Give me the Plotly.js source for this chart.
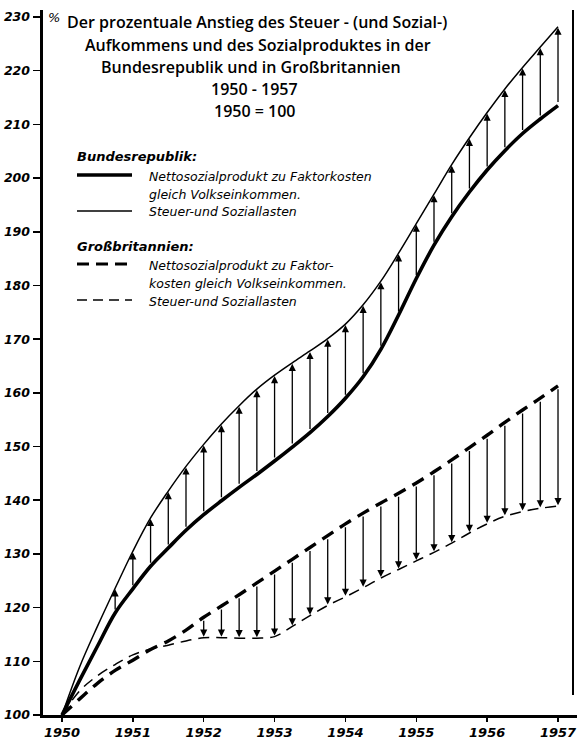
<!DOCTYPE html>
<html>
<head>
<meta charset="utf-8">
<script src="https://cdn.plot.ly/plotly-3.0.1.min.js"></script>
<style>html,body{margin:0;padding:0;background:#fff;}#chart{width:577px;height:742px;}</style>
</head>
<body>
<div id="chart"></div>
<script>
// ---- data ----
var years = [1950, 1950.25, 1950.5, 1950.75, 1951, 1951.25, 1951.5, 1951.75,
             1952, 1952.25, 1952.5, 1952.75, 1953, 1953.25, 1953.5, 1953.75,
             1954, 1954.25, 1954.5, 1954.75, 1955, 1955.25, 1955.5, 1955.75,
             1956, 1956.25, 1956.5, 1956.75, 1957];
// Bundesrepublik: Steuer- und Soziallasten (thin solid)
var brdSteuer = [100, 109.0, 116.5, 123.6, 130.5, 136.7, 141.7, 146.3,
                 150.4, 154.2, 157.6, 160.7, 163.3, 165.6, 167.8, 170.1,
                 172.8, 176.4, 180.8, 186.0, 191.5, 197.0, 202.5, 207.5,
                 212.2, 216.6, 220.6, 224.4, 228.2];
// Bundesrepublik: Nettosozialprodukt zu Faktorkosten (thick solid)
var brdNSP = [100, 106.5, 112.8, 119.0, 123.5, 127.7, 131.1, 134.4,
              137.3, 139.9, 142.4, 144.8, 147.3, 149.9, 152.6, 155.6,
              159.0, 163.0, 168.1, 174.5, 181.3, 187.5, 192.8, 197.4,
              201.5, 205.1, 208.3, 211.0, 213.5];
// Großbritannien: Nettosozialprodukt zu Faktorkosten (thick dashed)
var gbNSP = [100, 103.0, 105.9, 108.3, 110.2, 112.2, 113.8, 115.8,
             118.2, 120.3, 122.4, 124.6, 126.8, 129.0, 131.2, 133.4,
             135.6, 137.6, 139.5, 141.3, 143.2, 145.3, 147.5, 149.8,
             152.1, 154.5, 156.8, 159.0, 161.3];
// Großbritannien: Steuer- und Soziallasten (thin dashed)
var gbSteuer = [100, 104.5, 107.3, 109.4, 111.2, 112.3, 113.0, 113.8,
                114.4, 114.4, 114.3, 114.3, 114.6, 116.5, 118.5, 120.4,
                122.0, 123.7, 125.5, 127.1, 128.7, 130.3, 132.0, 133.9,
                135.6, 137.0, 137.9, 138.5, 138.9];
var brdArrowsFrom = 1950.75;
var gbArrowsFrom = 1952;
var yTicks = [100, 110, 120, 130, 140, 150, 160, 170, 180, 190, 200, 210, 220, 230];
var xTicks = [1950, 1951, 1952, 1953, 1954, 1955, 1956, 1957];

var titleLines = [
  "Der prozentuale Anstieg des Steuer - (und Sozial-)",
  "Aufkommens und des Sozialproduktes in der",
  "Bundesrepublik und in Großbritannien",
  "1950 - 1957",
  "1950 = 100"
];

// ---- layout helpers (pixel -> paper) ----
var L = 43, R = 577, T = 10, B = 715;
function px(x) { return (x - L) / (R - L); }
function py(y) { return (B - y) / (B - T); }

var FONT = "Open Sans, DejaVu Sans, sans-serif";
var HAND = "DejaVu Sans, Open Sans, sans-serif";

var traces = [
  {x: years, y: brdSteuer, mode: "lines", line: {color: "#000", width: 1.5, shape: "spline", smoothing: 1}},
  {x: years, y: brdNSP, mode: "lines", line: {color: "#000", width: 3.6, shape: "spline", smoothing: 1}},
  {x: years, y: gbNSP, mode: "lines", line: {color: "#000", width: 3.4, shape: "spline", smoothing: 1, dash: "13px,8px"}},
  {x: years, y: gbSteuer, mode: "lines", line: {color: "#000", width: 1.5, shape: "spline", smoothing: 1, dash: "11px,7px"}}
];

var annotations = [];
// arrows Bundesrepublik: from NSP up to Steuer; Großbritannien: from NSP down to Steuer
years.forEach(function (yr, i) {
  if (yr >= brdArrowsFrom) {
    annotations.push({x: yr, y: brdSteuer[i], ax: yr, ay: brdNSP[i], xref: "x", yref: "y",
      axref: "x", ayref: "y", text: "", showarrow: true, arrowhead: 2, arrowsize: 1.1,
      arrowwidth: 1.3, arrowcolor: "#000", standoff: 1, startstandoff: 2});
  }
  if (yr >= gbArrowsFrom) {
    annotations.push({x: yr, y: gbSteuer[i], ax: yr, ay: gbNSP[i], xref: "x", yref: "y",
      axref: "x", ayref: "y", text: "", showarrow: true, arrowhead: 2, arrowsize: 1.1,
      arrowwidth: 1.3, arrowcolor: "#000", standoff: 1, startstandoff: 2});
  }
});

var titleY = [22, 45, 67, 89, 111];
var titleX = [257, 258, 251, 254, 255];
titleLines.forEach(function (t, i) {
  annotations.push({xref: "paper", yref: "paper", x: px(titleX[i]), y: py(titleY[i]), text: t,
    showarrow: false, xanchor: "center", yanchor: "middle",
    font: {family: FONT, size: 16, weight: 600, color: "#000"}});
});

function legText(t, x, y, bold) {
  annotations.push({xref: "paper", yref: "paper", x: px(x), y: py(y), text: t, showarrow: false,
    xanchor: "left", yanchor: "middle",
    font: {family: HAND, size: bold ? 13 : 12.5, weight: bold ? 700 : 400, style: "italic", color: "#000"}});
}
legText("Bundesrepublik:", 75, 157, true);
legText("Nettosozialprodukt zu Faktorkosten", 147, 176, false);
legText("gleich Volkseinkommen.", 147, 194, false);
legText("Steuer-und Soziallasten", 147, 212, false);
legText("Großbritannien:", 75, 246, true);
legText("Nettosozialprodukt zu Faktor-", 147, 265, false);
legText("kosten gleich Volkseinkommen.", 147, 283, false);
legText("Steuer-und Soziallasten", 147, 301, false);

annotations.push({xref: "paper", yref: "paper", x: px(46), y: py(17), text: "%", showarrow: false,
  xanchor: "left", yanchor: "middle", font: {family: HAND, size: 13, style: "italic", color: "#000"}});

var shapes = [
  {type: "line", xref: "paper", yref: "paper", x0: px(77), x1: px(132), y0: py(175), y1: py(175), line: {color: "#000", width: 3.4}},
  {type: "line", xref: "paper", yref: "paper", x0: px(77), x1: px(132), y0: py(211), y1: py(211), line: {color: "#000", width: 1.5}},
  {type: "line", xref: "paper", yref: "paper", x0: px(77), x1: px(132), y0: py(264), y1: py(264), line: {color: "#000", width: 3.2, dash: "12px,7px"}},
  {type: "line", xref: "paper", yref: "paper", x0: px(77), x1: px(132), y0: py(300), y1: py(300), line: {color: "#000", width: 1.5, dash: "10px,6px"}},
  // right frame line of the scanned sheet
  {type: "line", xref: "paper", yref: "paper", x0: px(573), x1: px(573), y0: py(695), y1: py(10), line: {color: "#000", width: 2}}
];

var layout = {
  width: 577, height: 742,
  margin: {l: L, r: 577 - R, t: T, b: 742 - B, pad: 0},
  paper_bgcolor: "#fff", plot_bgcolor: "#fff",
  showlegend: false,
  xaxis: {range: [1949.732, 1957.268], tickvals: xTicks, ticktext: xTicks.map(String),
    showgrid: false, zeroline: false, showline: true, linewidth: 2.5, linecolor: "#000",
    ticks: "outside", ticklen: 4, tickwidth: 1.5, tickcolor: "#000", ticklabeloverflow: "allow",
    tickfont: {family: HAND, size: 13, style: "italic", weight: 700, color: "#000"}, fixedrange: true},
  yaxis: {range: [100, 231.3], tickvals: yTicks, ticktext: yTicks.map(String),
    showgrid: false, zeroline: false, showline: true, linewidth: 3.5, linecolor: "#000",
    ticks: "outside", ticklen: 7, tickwidth: 1.5, tickcolor: "#000", ticklabeloverflow: "allow",
    tickfont: {family: HAND, size: 12.5, style: "italic", weight: 700, color: "#000"}, fixedrange: true},
  annotations: annotations,
  shapes: shapes
};

Plotly.newPlot("chart", traces, layout, {displayModeBar: false, staticPlot: true});
</script>
</body>
</html>
